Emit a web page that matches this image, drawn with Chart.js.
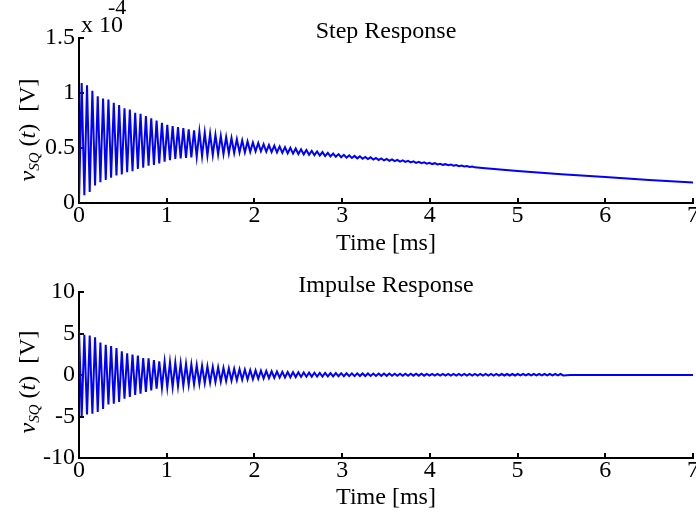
<!DOCTYPE html>
<html>
<head>
<meta charset="utf-8">
<script src="https://cdn.jsdelivr.net/npm/chart.js@4.4.1/dist/chart.umd.min.js"></script>
<style>
html, body { margin: 0; padding: 0; background: #fff; width: 696px; height: 518px; overflow: hidden; position: relative; }
canvas { position: absolute; left: 0; }
.lbl { position: absolute; font-family: 'Liberation Serif', 'Times New Roman', serif; font-size: 24px; color: #000; white-space: nowrap; line-height: 1; }
.ylab { transform: translate(-50%, -50%) rotate(-90deg); }
.ylab sub { font-size: 15px; vertical-align: -4px; font-style: italic; }
</style>
</head>
<body>
<canvas id="step" width="712" height="264" style="top:0px"></canvas>
<canvas id="impulse" width="712" height="264" style="top:254px"></canvas>

<div class="lbl ylab" style="left:28px; top:130px"><i>v</i><sub>SQ</sub> (<i>t</i>)&nbsp;&nbsp;[V]</div>
<div class="lbl ylab" style="left:28px; top:382px"><i>v</i><sub>SQ</sub> (<i>t</i>)&nbsp;&nbsp;[V]</div>
<div class="lbl" style="left:81px; top:12px">x 10</div>
<div class="lbl" style="left:108px; top:-4px; font-size:22px">-4</div>

<script>
// time between two peaks [ms]
const period = 0.061;

// step response (units of 1e-4 V): one peak and one trough per cycle
const stepPeaks = [
    1.09, 1.07, 1.02, 0.97, 0.95, 0.94, 0.91, 0.89, 0.86, 0.85,
    0.82, 0.81, 0.79, 0.77, 0.75, 0.73, 0.71, 0.70, 0.69, 0.68,
    0.67, 0.66, 0.65, 0.64, 0.63, 0.62, 0.61, 0.60, 0.59, 0.58,
    0.57, 0.56, 0.55, 0.545, 0.534, 0.527, 0.521, 0.514, 0.508, 0.501,
    0.495, 0.488, 0.482, 0.475, 0.469, 0.463, 0.456, 0.45, 0.444, 0.438,
    0.433, 0.428, 0.424, 0.419, 0.415, 0.409, 0.405, 0.40, 0.396, 0.392,
    0.387, 0.383, 0.379, 0.374, 0.37, 0.366, 0.362, 0.357, 0.353, 0.349,
    0.345, 0.34, 0.336, 0.332
];
const stepTroughs = [
    0.07, 0.10, 0.16, 0.19, 0.21, 0.23, 0.25, 0.26, 0.28, 0.29,
    0.31, 0.32, 0.34, 0.345, 0.36, 0.375, 0.39, 0.40, 0.405, 0.41,
    0.415, 0.42, 0.425, 0.43, 0.435, 0.44, 0.445, 0.45, 0.455, 0.46,
    0.46, 0.465, 0.47, 0.47, 0.466, 0.463, 0.459, 0.456, 0.452, 0.449,
    0.445, 0.442, 0.438, 0.435, 0.431, 0.427, 0.424, 0.42, 0.416, 0.412,
    0.409, 0.406, 0.402, 0.399, 0.395, 0.391, 0.387, 0.384, 0.38, 0.376,
    0.373, 0.369, 0.365, 0.362, 0.358, 0.354, 0.35, 0.347, 0.343, 0.339,
    0.335, 0.332, 0.328, 0.324
];
const stepTailTime = [4.6, 5, 5.5, 6, 6.5, 7];
const stepTailValue = [0.318, 0.29, 0.262, 0.236, 0.21, 0.187];

// impulse response [V]
const impPeaks = [
    5.4, 4.85, 4.75, 4.55, 3.9, 3.65, 3.5, 3.25, 2.85, 2.6,
    2.45, 2.35, 2.05, 2.0, 1.8, 1.65, 1.6, 1.55, 1.5, 1.42,
    1.35, 1.28, 1.2, 1.12, 1.05, 0.98, 0.92, 0.86, 0.8, 0.75,
    0.7, 0.65, 0.6, 0.56, 0.52, 0.48, 0.45, 0.42, 0.39, 0.36,
    0.34, 0.32, 0.3, 0.28, 0.27, 0.26, 0.25, 0.24, 0.23, 0.22,
    0.21, 0.2, 0.2, 0.19, 0.19, 0.18, 0.18, 0.17, 0.17, 0.16,
    0.16, 0.16, 0.15, 0.15, 0.15, 0.14, 0.14, 0.14, 0.14, 0.14,
    0.13, 0.13, 0.13, 0.13, 0.13, 0.13, 0.13, 0.13, 0.13, 0.12,
    0.12, 0.12, 0.12, 0.12, 0.12, 0.12, 0.12, 0.12, 0.12, 0.12,
    0.12
];
const impTroughs = [
    -5.0, -4.75, -4.65, -4.45, -4.1, -3.55, -3.45, -3.25, -2.85, -2.65,
    -2.4, -2.25, -2.05, -1.85, -1.65, -1.55, -1.5, -1.45, -1.35, -1.28,
    -1.2, -1.12, -1.05, -0.98, -0.92, -0.85, -0.8, -0.74, -0.68, -0.63,
    -0.58, -0.54, -0.5, -0.46, -0.42, -0.38, -0.35, -0.32, -0.29, -0.27,
    -0.25, -0.23, -0.21, -0.2, -0.19, -0.18, -0.17, -0.16, -0.15, -0.14,
    -0.13, -0.13, -0.12, -0.12, -0.11, -0.11, -0.1, -0.1, -0.1, -0.09,
    -0.09, -0.09, -0.08, -0.08, -0.08, -0.07, -0.07, -0.07, -0.07, -0.07,
    -0.07, -0.07, -0.07, -0.06, -0.06, -0.06, -0.06, -0.06, -0.06, -0.06,
    -0.06, -0.06, -0.05, -0.05, -0.05, -0.05, -0.05, -0.05, -0.05, -0.05,
    -0.05
];
const impTailTime = [5.6, 7];
const impTailValue = [0, 0];

const xTicks = [0, 1, 2, 3, 4, 5, 6, 7];

function stepData() {
    let pts = [{x: 0, y: 0}];
    stepPeaks.forEach(function (p, k) {
        pts.push({x: (k + 0.5) * period, y: p});
        pts.push({x: (k + 1) * period, y: stepTroughs[k]});
    });
    stepTailTime.forEach(function (t, i) {
        pts.push({x: t, y: stepTailValue[i]});
    });
    return pts;
}

function impulseData() {
    let pts = [];
    impPeaks.forEach(function (p, k) {
        pts.push({x: k * period, y: p});
        pts.push({x: (k + 0.5) * period, y: impTroughs[k]});
    });
    impTailTime.forEach(function (t, i) {
        pts.push({x: t, y: impTailValue[i]});
    });
    return pts;
}

const serif = "'Liberation Serif', 'Times New Roman', serif";

function axisLook() {
    return {
        border: {display: true, color: '#000', width: 2},
        grid: {display: true, drawOnChartArea: false, drawTicks: true, tickLength: -5, color: '#000', lineWidth: 2}
    };
}

function makeChart(id, title, data, yMin, yMax, yStep, xAxisHeight) {
    let x = axisLook();
    x.type = 'linear';
    x.min = 0;
    x.max = 7;
    x.afterBuildTicks = function (scale) {
        scale.ticks = xTicks.map(function (v) { return {value: v}; });
    };
    x.ticks = {color: '#000', font: {family: serif, size: 24}, padding: 3, maxRotation: 0,
               callback: function (v) { return String(v); }};
    x.title = {display: true, text: 'Time [ms]', color: '#000', font: {family: serif, size: 24}, padding: {top: 0, bottom: 6}};
    x.afterFit = function (scale) { scale.height = xAxisHeight; };

    let y = axisLook();
    y.min = yMin;
    y.max = yMax;
    y.ticks = {color: '#000', font: {family: serif, size: 24}, padding: 9, stepSize: yStep,
               callback: function (v) { return String(v); }};
    y.afterFit = function (scale) { scale.width = 79; };

    return new Chart(document.getElementById(id), {
        type: 'line',
        data: {
            datasets: [{
                data: data,
                borderColor: '#0000ff',
                borderWidth: 2,
                pointRadius: 0,
                tension: 0,
                fill: false
            }]
        },
        options: {
            responsive: false,
            animation: false,
            devicePixelRatio: 1,
            layout: {padding: {left: 0, right: 19, top: 0, bottom: 0}},
            scales: {x: x, y: y},
            plugins: {
                legend: {display: false},
                tooltip: {enabled: false},
                title: {
                    display: true,
                    text: title,
                    fullSize: false,
                    color: '#000',
                    font: {family: serif, size: 24, weight: 'normal'},
                    padding: {top: 17, bottom: -7.8}
                }
            }
        }
    });
}

makeChart('step', 'Step Response', stepData(), 0, 1.5, 0.5, 61);
makeChart('impulse', 'Impulse Response', impulseData(), -10, 10, 5, 60);
</script>
</body>
</html>
